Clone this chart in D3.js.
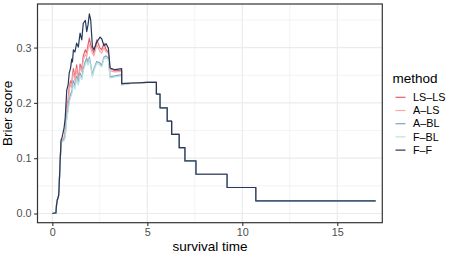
<!DOCTYPE html>
<html>
<head>
<meta charset="utf-8">
<script src="https://cdn.jsdelivr.net/npm/d3@7"></script>
<style>
  body { margin: 0; background: #fff; }
  svg { display: block; font-family: "Liberation Sans", Arial, sans-serif; }
</style>
</head>
<body>
<svg id="chart" width="465" height="257"></svg>
<script>
// Brier score over survival time, five methods.
const methods = ["LS–LS", "A–LS", "A–BL", "F–BL", "F–F"];
const methodColors = ["#e4606b", "#f4a9ae", "#7fa3bf", "#b9e1e1", "#24385a"];

// early region: the methods differ
const earlyTimes = [0.00, 0.19, 0.22, 0.26, 0.33, 0.35, 0.41, 0.46, 0.51, 0.62,
  0.68, 0.76, 0.83, 0.89, 0.96, 1.02, 1.06, 1.11, 1.19, 1.28,
  1.37, 1.46, 1.55, 1.63, 1.74, 1.81, 1.88, 1.95, 2.02, 2.11,
  2.19, 2.34, 2.51, 2.60, 2.72, 2.83, 2.95, 3.04, 3.30, 3.65, 3.65];
const ffEarly = [0.000, 0.001, 0.015, 0.024, 0.032, 0.042, 0.093, 0.133, 0.137, 0.155,
  0.173, 0.223, 0.232, 0.254, 0.263, 0.279, 0.274, 0.296, 0.292, 0.308,
  0.301, 0.326, 0.314, 0.344, 0.349, 0.329, 0.341, 0.361, 0.350, 0.302,
  0.296, 0.310, 0.319, 0.316, 0.303, 0.307, 0.299, 0.263, 0.260, 0.262, 0.235];
const lslsEarly = [0.000, 0.001, 0.015, 0.024, 0.032, 0.042, 0.092, 0.130, 0.132, 0.136,
  0.150, 0.195, 0.205, 0.228, 0.240, 0.232, 0.250, 0.262, 0.245, 0.269,
  0.241, 0.270, 0.260, 0.285, 0.296, 0.290, 0.305, 0.317, 0.305, 0.296,
  0.290, 0.314, 0.299, 0.296, 0.308, 0.296, 0.292, 0.262, 0.258, 0.259, 0.235];
const alsEarly = [0.000, 0.001, 0.015, 0.024, 0.032, 0.042, 0.092, 0.130, 0.132, 0.135,
  0.148, 0.190, 0.200, 0.222, 0.235, 0.228, 0.245, 0.255, 0.240, 0.262,
  0.238, 0.265, 0.256, 0.278, 0.288, 0.283, 0.297, 0.306, 0.298, 0.290,
  0.285, 0.305, 0.293, 0.290, 0.300, 0.292, 0.290, 0.258, 0.256, 0.257, 0.235];
const ablEarly = [0.000, 0.001, 0.015, 0.024, 0.033, 0.043, 0.090, 0.128, 0.130, 0.133,
  0.140, 0.175, 0.190, 0.205, 0.215, 0.220, 0.228, 0.240, 0.230, 0.248,
  0.236, 0.254, 0.245, 0.262, 0.275, 0.281, 0.272, 0.283, 0.270, 0.250,
  0.262, 0.275, 0.272, 0.268, 0.283, 0.285, 0.281, 0.247, 0.249, 0.251, 0.233];
const fblEarly = [0.000, 0.001, 0.015, 0.024, 0.033, 0.043, 0.090, 0.128, 0.130, 0.132,
  0.138, 0.170, 0.185, 0.200, 0.210, 0.215, 0.222, 0.235, 0.225, 0.244,
  0.232, 0.250, 0.242, 0.258, 0.270, 0.276, 0.268, 0.279, 0.266, 0.247,
  0.258, 0.272, 0.268, 0.265, 0.280, 0.281, 0.278, 0.245, 0.247, 0.249, 0.232];

// later region: all methods coincide
const tailTimes = [4.30, 5.00, 5.48, 5.48, 5.67, 5.67, 6.05, 6.05, 6.28, 6.28,
  6.68, 6.68, 6.98, 6.98, 7.56, 7.56, 9.20, 9.20, 10.71, 10.71, 17.02];
const tailValues = [0.236, 0.237, 0.237, 0.216, 0.216, 0.191, 0.191, 0.167, 0.167, 0.143,
  0.143, 0.119, 0.119, 0.095, 0.095, 0.071, 0.071, 0.047, 0.047, 0.023, 0.023];

const xTicks = [0, 5, 10, 15];
const xMinor = [2.5, 7.5, 12.5];
const yTicks = [0, 0.1, 0.2, 0.3];
const yMinor = [0.05, 0.15, 0.25, 0.35];

const earlyByMethod = [lslsEarly, alsEarly, ablEarly, fblEarly, ffEarly];

const panel = { left: 37.5, right: 382.3, top: 4, bottom: 222.7 };
const x = d3.scaleLinear().domain([-0.78, 17.37]).range([panel.left, panel.right]);
const y = d3.scaleLinear().domain([-0.0166, 0.3788]).range([panel.bottom, panel.top]);

const svg = d3.select("#chart");
const grid = svg.append("g");

grid.selectAll(".xminor").data(xMinor).join("line")
  .attr("x1", d => x(d)).attr("x2", d => x(d))
  .attr("y1", panel.top).attr("y2", panel.bottom)
  .attr("stroke", "#ebebeb").attr("stroke-width", 0.6);
grid.selectAll(".yminor").data(yMinor).join("line")
  .attr("y1", d => y(d)).attr("y2", d => y(d))
  .attr("x1", panel.left).attr("x2", panel.right)
  .attr("stroke", "#ebebeb").attr("stroke-width", 0.6);
grid.selectAll(".xmajor").data(xTicks).join("line")
  .attr("x1", d => x(d)).attr("x2", d => x(d))
  .attr("y1", panel.top).attr("y2", panel.bottom)
  .attr("stroke", "#ebebeb").attr("stroke-width", 1.2);
grid.selectAll(".ymajor").data(yTicks).join("line")
  .attr("y1", d => y(d)).attr("y2", d => y(d))
  .attr("x1", panel.left).attr("x2", panel.right)
  .attr("stroke", "#ebebeb").attr("stroke-width", 1.2);

// lines
const line = d3.line().x(d => x(d[0])).y(d => y(d[1]));
const series = methods.map((m, i) => ({
  name: m,
  color: methodColors[i],
  points: earlyTimes.map((t, j) => [t, earlyByMethod[i][j]])
    .concat(tailTimes.map((t, j) => [t, tailValues[j]]))
}));

svg.append("g").selectAll("path").data(series).join("path")
  .attr("d", d => line(d.points))
  .attr("fill", "none")
  .attr("stroke", d => d.color)
  .attr("stroke-width", 1.2)
  .attr("stroke-linejoin", "round");

// panel border
svg.append("rect")
  .attr("x", panel.left).attr("y", panel.top)
  .attr("width", panel.right - panel.left).attr("height", panel.bottom - panel.top)
  .attr("fill", "none").attr("stroke", "#333333").attr("stroke-width", 1.2);

// axes
const xAxis = svg.append("g")
  .attr("transform", `translate(0,${panel.bottom})`)
  .call(d3.axisBottom(x).tickValues(xTicks).tickFormat(d3.format("d")).tickSize(3.4).tickPadding(2.5));
const yAxis = svg.append("g")
  .attr("transform", `translate(${panel.left},0)`)
  .call(d3.axisLeft(y).tickValues(yTicks).tickFormat(d3.format(".1f")).tickSize(3.4).tickPadding(2.5));
[xAxis, yAxis].forEach(g => {
  g.attr("font-family", "inherit").attr("font-size", 10.8);
  g.select(".domain").remove();
  g.selectAll(".tick line").attr("stroke", "#333333").attr("stroke-width", 1.1);
  g.selectAll(".tick text").attr("fill", "#4d4d4d");
});

svg.append("text")
  .attr("x", (panel.left + panel.right) / 2).attr("y", 250.5)
  .attr("text-anchor", "middle").attr("font-size", 13.5).attr("fill", "#000")
  .text("survival time");
svg.append("text")
  .attr("transform", `translate(12,${(panel.top + panel.bottom) / 2}) rotate(-90)`)
  .attr("text-anchor", "middle").attr("font-size", 13.5).attr("fill", "#000")
  .text("Brier score");

// legend
const legend = svg.append("g").attr("transform", "translate(392.5,0)");
legend.append("text").attr("x", 0).attr("y", 83)
  .attr("font-size", 13.5).attr("fill", "#000").text("method");
const item = legend.selectAll(".item").data(series).join("g")
  .attr("transform", (d, i) => `translate(0,${97.3 + 13.2 * i})`);
item.append("line")
  .attr("x1", 3).attr("x2", 13)
  .attr("stroke", d => d.color).attr("stroke-width", 1.2);
item.append("text")
  .attr("x", 20.5).attr("dy", "0.35em")
  .attr("font-size", 10.8).attr("fill", "#000")
  .text(d => d.name);
</script>
</body>
</html>
